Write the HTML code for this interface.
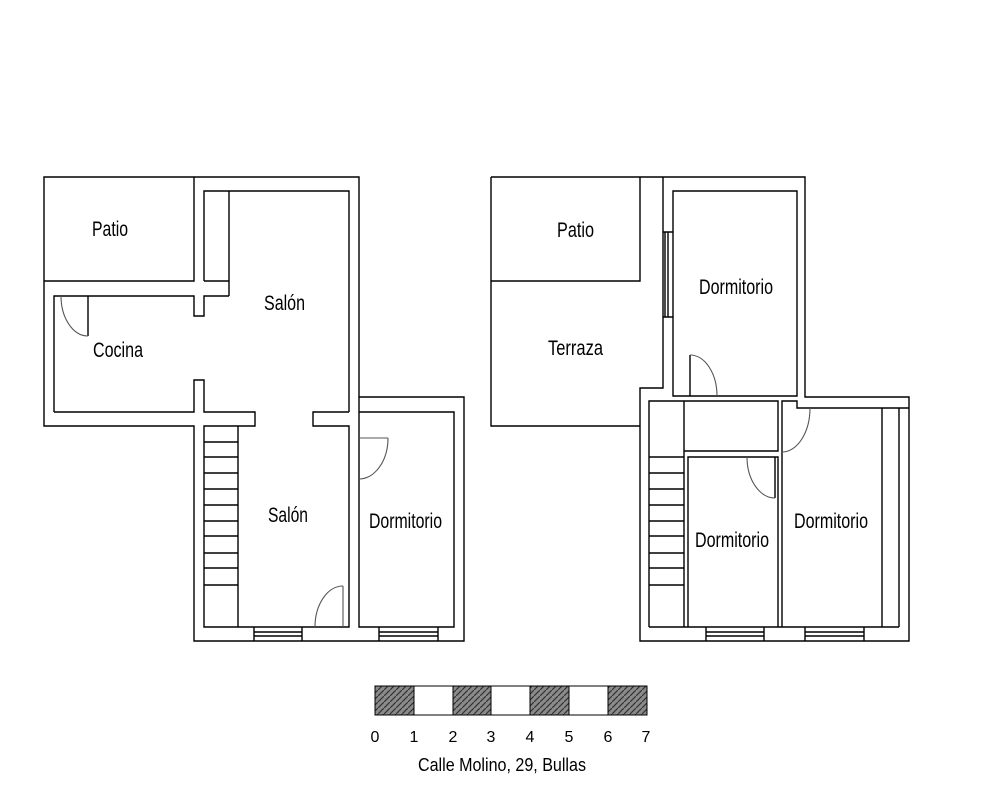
<!DOCTYPE html>
<html><head><meta charset="utf-8"><style>
html,body{margin:0;padding:0;background:#fff;}
svg{display:block;}
text{font-family:"Liberation Sans",sans-serif;fill:#000;}
</style></head><body>
<svg width="1000" height="800" viewBox="0 0 1000 800" xmlns="http://www.w3.org/2000/svg">
<defs>
<pattern id="h" width="6" height="6" patternUnits="userSpaceOnUse">
<rect width="6" height="6" fill="#8a8a8a"/>
<path d="M0 6 L6 0" stroke="#333" stroke-width="1.2"/>
</pattern>
</defs>
<g fill="none" stroke="#000" stroke-width="1.4">
<!-- LEFT PLAN -->
<path d="M44 177 H359 V397 H464 V641 H194 V426 H44 Z"/>
<path d="M44 281 H194 V177"/>
<path d="M204 281 V191 H349 V412"/>
<path d="M204 281 H229 M229 191 V296"/>
<path d="M54 412 V296 H194 V316 H204 V296 H229"/>
<path d="M54 412 H194 V380 H204 V412 H255 V426 H204 V627 H349 V426 H313 V412 H349"/>
<path d="M359 397 V412 M359 412 H454 V627 H359 Z"/>
<path d="M238 426 V627"/>
<path d="M204 442 H238 M204 457 H238 M204 473 H238 M204 489 H238 M204 505 H238 M204 521 H238 M204 536 H238 M204 553 H238 M204 568 H238 M204 585 H238"/>
<path d="M88 296 V336"/>
<path d="M254 627 V641 M302 627 V641 M254 632 H302 M254 636 H302"/>
<path d="M379 627 V641 M438 627 V641 M379 632 H438 M379 636 H438"/>
<!-- RIGHT PLAN -->
<path d="M491 177 H805 V397 H909 V641 H640 V388 H663 V177"/>
<path d="M491 177 V426 H640"/>
<path d="M491 281 H640 V177"/>
<path d="M673 191 H797 V396 H673 Z"/>
<path d="M663 232 H673 M663 317 H673 M665 232 V317 M668 232 V317"/>
<path d="M690 355 V396"/>
<path d="M649 627 V401 H778 V451 H684 M684 401 V627"/>
<path d="M688 627 V457 H778 V627"/>
<path d="M775 457 V498"/>
<path d="M782 627 V401 H797 V408 H909"/>
<path d="M882 408 V627 M899 408 V627"/>
<path d="M649 627 H899"/>
<path d="M649 457 H684 M649 473 H684 M649 489 H684 M649 505 H684 M649 521 H684 M649 536 H684 M649 553 H684 M649 568 H684 M649 585 H684"/>
<path d="M706 627 V641 M764 627 V641 M706 632 H764 M706 636 H764"/>
<path d="M805 627 V641 M864 627 V641 M805 632 H864 M805 636 H864"/>
</g>
<g fill="none" stroke="#555" stroke-width="1.1">
<path d="M343 586 V627"/>
<path d="M343 586 A28 41 0 0 0 315 627"/>
<path d="M88 336 A27 40 0 0 1 61 296"/>
<path d="M388 438 H359 M388 438 A29 41 0 0 1 359 479"/>
<path d="M690 355 A27 41 0 0 1 717 396"/>
<path d="M810 408 A28 44 0 0 1 782 452"/>
<path d="M775 498 A28 41 0 0 1 747 457"/>
</g>
<g font-size="21">
<text x="92" y="236" textLength="36" lengthAdjust="spacingAndGlyphs">Patio</text>
<text x="93" y="357" textLength="50" lengthAdjust="spacingAndGlyphs">Cocina</text>
<text x="264" y="310" textLength="41" lengthAdjust="spacingAndGlyphs">Salón</text>
<text x="268" y="522" textLength="40" lengthAdjust="spacingAndGlyphs">Salón</text>
<text x="369" y="528" textLength="73" lengthAdjust="spacingAndGlyphs">Dormitorio</text>
<text x="557" y="237" textLength="37" lengthAdjust="spacingAndGlyphs">Patio</text>
<text x="548" y="355" textLength="55" lengthAdjust="spacingAndGlyphs">Terraza</text>
<text x="699" y="294" textLength="74" lengthAdjust="spacingAndGlyphs">Dormitorio</text>
<text x="695" y="547" textLength="74" lengthAdjust="spacingAndGlyphs">Dormitorio</text>
<text x="794" y="528" textLength="74" lengthAdjust="spacingAndGlyphs">Dormitorio</text>
</g>
<!-- scale -->
<g stroke="#000" stroke-width="1">
<rect x="375" y="686" width="39" height="29" fill="url(#h)"/>
<rect x="414" y="686" width="39" height="29" fill="#fff"/>
<rect x="453" y="686" width="38" height="29" fill="url(#h)"/>
<rect x="491" y="686" width="39" height="29" fill="#fff"/>
<rect x="530" y="686" width="39" height="29" fill="url(#h)"/>
<rect x="569" y="686" width="39" height="29" fill="#fff"/>
<rect x="608" y="686" width="39" height="29" fill="url(#h)"/>
</g>
<g font-size="16" text-anchor="middle">
<text x="375" y="742">0</text>
<text x="414" y="742">1</text>
<text x="453" y="742">2</text>
<text x="491" y="742">3</text>
<text x="530" y="742">4</text>
<text x="569" y="742">5</text>
<text x="608" y="742">6</text>
<text x="646" y="742">7</text>
</g>
<text x="418" y="771" font-size="18" textLength="168" lengthAdjust="spacingAndGlyphs">Calle Molino, 29, Bullas</text>
</svg>
</body></html>
